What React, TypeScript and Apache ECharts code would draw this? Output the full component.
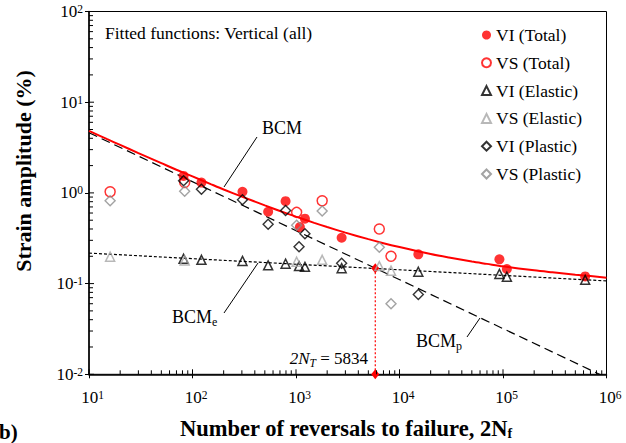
import React, { useEffect, useRef } from "react";
import * as echarts from "echarts";

// ---------- tick labels ----------
const xExponents = [1, 2, 3, 4, 5, 6];
const yExponents = [-2, -1, 0, 1, 2];
const minorSteps = [2, 3, 4, 5, 6, 7, 8, 9];
const xDecades = [10, 100, 1000, 10000, 100000];
const yDecades = [0.01, 0.1, 1, 10];
const xMajors = [10, 100, 1000, 10000, 100000, 1000000];
const yMajors = [0.01, 0.1, 1, 10, 100];

// ---------- measured data ----------
const viTotalX = [82, 122, 304, 538, 793, 1090, 1220, 2760, 15200, 92300, 109000, 622000];
const viTotalY = [1.54, 1.3, 1.03, 0.62, 0.81, 0.42, 0.52, 0.32, 0.21, 0.185, 0.145, 0.12];

const vsTotalX = [16, 84, 1014, 1790, 6380, 8280];
const vsTotalY = [1.03, 1.3, 0.61, 0.82, 0.4, 0.2];

const viElasticX = [82, 122, 304, 538, 793, 1070, 1220, 2760, 15200, 92300, 109000, 622000];
const viElasticY = [0.188, 0.183, 0.178, 0.159, 0.166, 0.156, 0.153, 0.148, 0.135, 0.128, 0.119, 0.11];

const vsElasticX = [16, 84, 1014, 1790, 6380, 8280];
const vsElasticY = [0.198, 0.18, 0.174, 0.183, 0.156, 0.139];

const viPlasticX = [82, 122, 304, 538, 793, 1070, 1220, 2760, 15200];
const viPlasticY = [1.36, 1.1, 0.84, 0.45, 0.64, 0.255, 0.355, 0.168, 0.076];

const vsPlasticX = [16, 84, 1014, 1790, 6380, 8280];
const vsPlasticY = [0.82, 1.04, 0.44, 0.63, 0.251, 0.06];

// fitted curves
const bcmX = [10, 15, 20, 30, 50, 70, 100, 150, 200, 300, 500, 700, 1000, 1500, 2000, 3000, 5000, 7000,
  10000, 20000, 30000, 50000, 70000, 100000, 200000, 300000, 500000, 700000, 1000000];
const bcmY = [4.82, 3.91, 3.38, 2.75, 2.13, 1.8, 1.52, 1.25, 1.09, 0.91, 0.728, 0.632, 0.547, 0.467, 0.42,
  0.365, 0.309, 0.279, 0.253, 0.212, 0.194, 0.175, 0.165, 0.155, 0.14, 0.133, 0.125, 0.121, 0.116];
const bcmElasticX = [10, 1000000];
const bcmElasticY = [0.217, 0.107];
const bcmPlasticX = [10, 1000000];
const bcmPlasticY = [4.61, 0.0092];
const transitionX = [5834, 5834];
const transitionY = [0.01, 0.148];

const serif = '"Liberation Serif", "Times New Roman", serif';
const pairs = (xs: number[], ys: number[]) => xs.map((x, i) => [x, ys[i]]);

export default function App() {
  const ref = useRef<HTMLDivElement>(null);
  useEffect(() => {
    if (!ref.current) return;
    const chart = echarts.init(ref.current, null, { renderer: "svg" });

    const xTickData: number[][] = [];
    xDecades.forEach((d) => minorSteps.forEach((m) => xTickData.push([d * m, 0.01, 4])));
    xMajors.forEach((v) => xTickData.push([v, 0.01, 5]));
    const yTickData: number[][] = [];
    yDecades.forEach((d) => minorSteps.forEach((m) => yTickData.push([10, d * m, 4])));
    yMajors.forEach((v) => yTickData.push([10, v, 5]));

    const black = "#000";
    const red = "#ff0000";
    const grayTri = "#a6a6a6";
    const grayDia = "#8c8c8c";
    const hollow = "rgba(255,255,255,0)";

    const scatter = (name: string, data: number[][], symbol: string, size: any, itemStyle: any, z: number) => ({
      name,
      type: "scatter",
      data,
      symbol,
      symbolSize: size,
      itemStyle,
      z,
      silent: true,
    });

    const sub = (size: number, pad: number, extra: any = {}) => ({
      fontFamily: serif, fontSize: size, lineHeight: size, verticalAlign: "top", padding: [pad, 0, 0, 0], fill: black, ...extra,
    });
    const main = (size: number, extra: any = {}) => ({
      fontFamily: serif, fontSize: size, lineHeight: size, verticalAlign: "top", fill: black, ...extra,
    });

    const option: any = {
      animation: false,
      backgroundColor: "#fff",
      textStyle: { fontFamily: serif },
      grid: {
        left: 89,
        right: 19.5,
        top: 11.5,
        bottom: 68.7,
        show: true,
        borderColor: "#000",
        borderWidth: 1,
        containLabel: false,
        outerBoundsMode: "none",
      },
      xAxis: {
        type: "log",
        logBase: 10,
        min: 10,
        max: 1000000,
        splitLine: { show: false },
        axisLine: { lineStyle: { color: black, width: 1.5 } },
        axisTick: { show: true, inside: false, length: 4, lineStyle: { color: black, width: 1 } },
        axisLabel: {
          margin: 15,
          formatter: (v: number) => {
            const e = xExponents.find((k) => Math.abs(Math.log10(v) - k) < 1e-6);
            return e === undefined ? "" : `{b|10}{s|${e}}`;
          },
          rich: {
            b: { fontSize: 17, fontFamily: serif, color: black, lineHeight: 17, padding: [0, 0, 0, 7] },
            s: { fontSize: 11.5, fontFamily: serif, color: black, lineHeight: 11.5, verticalAlign: "top" },
          },
        },
      },
      yAxis: {
        type: "log",
        logBase: 10,
        min: 0.01,
        max: 100,
        splitLine: { show: false },
        axisLine: { lineStyle: { color: black, width: 1.5 } },
        axisTick: { show: true, inside: false, length: 4, lineStyle: { color: black, width: 1 } },
        axisLabel: {
          margin: 6,
          formatter: (v: number) => {
            const e = yExponents.find((k) => Math.abs(Math.log10(v) - k) < 1e-6);
            return e === undefined ? "" : `{b|10}{s|${e}}`;
          },
          rich: {
            b: { fontSize: 17, fontFamily: serif, color: black, lineHeight: 17 },
            s: { fontSize: 11.5, fontFamily: serif, color: black, lineHeight: 11.5, verticalAlign: "top" },
          },
        },
      },
      legend: {
        data: ["VI (Total)", "VS (Total)", "VI (Elastic)", "VS (Elastic)", "VI (Plastic)", "VS (Plastic)"],
        orient: "vertical",
        left: 481,
        top: 25,
        padding: 0,
        itemWidth: 9,
        itemHeight: 9,
        itemGap: 7.8,
        selectedMode: false,
        textStyle: { fontFamily: serif, fontSize: 17.5, color: black, lineHeight: 20 },
      },
      series: [
        {
          name: "BCM",
          type: "line",
          data: pairs(bcmX, bcmY),
          smooth: 0.3,
          symbol: "none",
          lineStyle: { color: red, width: 2 },
          z: 3,
          silent: true,
        },
        {
          name: "BCMe",
          type: "line",
          data: pairs(bcmElasticX, bcmElasticY),
          symbol: "none",
          lineStyle: { color: black, width: 1.2, type: [3, 2] },
          z: 2,
          silent: true,
        },
        {
          name: "BCMp",
          type: "line",
          data: pairs(bcmPlasticX, bcmPlasticY),
          symbol: "none",
          lineStyle: { color: black, width: 1.2, type: [9, 5] },
          z: 2,
          silent: true,
        },
        {
          name: "transition",
          type: "line",
          data: pairs(transitionX, transitionY),
          symbol: "diamond",
          symbolSize: [8, 10],
          itemStyle: { color: red },
          lineStyle: { color: red, width: 1.2, type: [2, 2] },
          z: 4,
          clip: false,
          silent: true,
        },
        scatter("VI (Total)", pairs(viTotalX, viTotalY), "circle", 10, { color: red }, 5),
        scatter("VS (Total)", pairs(vsTotalX, vsTotalY), "circle", 10,
          { color: hollow, borderColor: red, borderWidth: 1.5 }, 5),
        scatter("VI (Elastic)", pairs(viElasticX, viElasticY), "triangle", 9,
          { color: hollow, borderColor: black, borderWidth: 1.5 }, 6),
        scatter("VS (Elastic)", pairs(vsElasticX, vsElasticY), "triangle", 9,
          { color: hollow, borderColor: grayTri, borderWidth: 1.5 }, 6),
        scatter("VI (Plastic)", pairs(viPlasticX, viPlasticY), "diamond", 10,
          { color: hollow, borderColor: black, borderWidth: 1.4 }, 7),
        scatter("VS (Plastic)", pairs(vsPlasticX, vsPlasticY), "diamond", 10,
          { color: hollow, borderColor: grayDia, borderWidth: 1.4 }, 7),
        {
          name: "xticks",
          type: "custom",
          data: xTickData,
          silent: true,
          clip: false,
          z: 8,
          renderItem: (params: any, api: any) => {
            const p = api.coord([api.value(0), api.value(1)]);
            const len = api.value(2);
            return {
              type: "line",
              shape: { x1: p[0], y1: p[1], x2: p[0], y2: p[1] - len },
              style: { stroke: black, lineWidth: 1 },
            };
          },
        },
        {
          name: "yticks",
          type: "custom",
          data: yTickData,
          silent: true,
          clip: false,
          z: 8,
          renderItem: (params: any, api: any) => {
            const p = api.coord([api.value(0), api.value(1)]);
            const len = api.value(2);
            return {
              type: "line",
              shape: { x1: p[0], y1: p[1], x2: p[0] + len, y2: p[1] },
              style: { stroke: black, lineWidth: 1 },
            };
          },
        },
      ],
      graphic: [
        {
          type: "text",
          x: 105,
          y: 33,
          style: { text: "Fitted functions: Vertical (all)", fontFamily: serif, fontSize: 17.5, fill: black, verticalAlign: "middle" },
        },
        {
          type: "text",
          x: 262,
          y: 128,
          style: { text: "BCM", fontFamily: serif, fontSize: 18, fill: black, verticalAlign: "middle" },
        },
        { type: "line", shape: { x1: 257, y1: 137, x2: 224, y2: 187 }, style: { stroke: black, lineWidth: 1 } },
        {
          type: "text",
          x: 172,
          y: 317,
          style: {
            text: "{m|BCM}{s|e}",
            verticalAlign: "middle",
            rich: { m: main(18), s: sub(12, 8) },
          },
        },
        { type: "line", shape: { x1: 258, y1: 263, x2: 224, y2: 313 }, style: { stroke: black, lineWidth: 1 } },
        {
          type: "text",
          x: 416,
          y: 341,
          style: {
            text: "{m|BCM}{s|p}",
            verticalAlign: "middle",
            rich: { m: main(18), s: sub(12, 8) },
          },
        },
        { type: "line", shape: { x1: 467, y1: 337, x2: 480, y2: 318 }, style: { stroke: black, lineWidth: 1 } },
        {
          type: "text",
          x: 368,
          y: 358,
          style: {
            text: "{i|2N}{s|T}{n| = 5834}",
            align: "right",
            verticalAlign: "middle",
            rich: {
              i: main(17, { fontStyle: "italic" }),
              s: sub(11.5, 7, { fontStyle: "italic" }),
              n: main(17),
            },
          },
        },
        {
          type: "text",
          x: 23,
          y: 171,
          rotation: Math.PI / 2,
          style: {
            text: "Strain amplitude (%)",
            fontFamily: serif,
            fontWeight: "bold",
            fontSize: 22,
            fill: black,
            align: "center",
            verticalAlign: "middle",
          },
        },
        {
          type: "text",
          x: 346,
          y: 428,
          style: {
            text: "{m|Number of reversals to failure, 2N}{s|f}",
            align: "center",
            verticalAlign: "middle",
            rich: {
              m: main(22.5, { fontWeight: "bold" }),
              s: sub(14, 10, { fontWeight: "bold" }),
            },
          },
        },
        {
          type: "text",
          x: -1,
          y: 432,
          style: { text: "b)", fontFamily: serif, fontWeight: "bold", fontSize: 21, fill: black, verticalAlign: "middle" },
        },
      ],
    };

    chart.setOption(option);
    return () => chart.dispose();
  }, []);

  return <div ref={ref} style={{ position: "absolute", left: 0, top: 0, width: 626, height: 443 }} />;
}
